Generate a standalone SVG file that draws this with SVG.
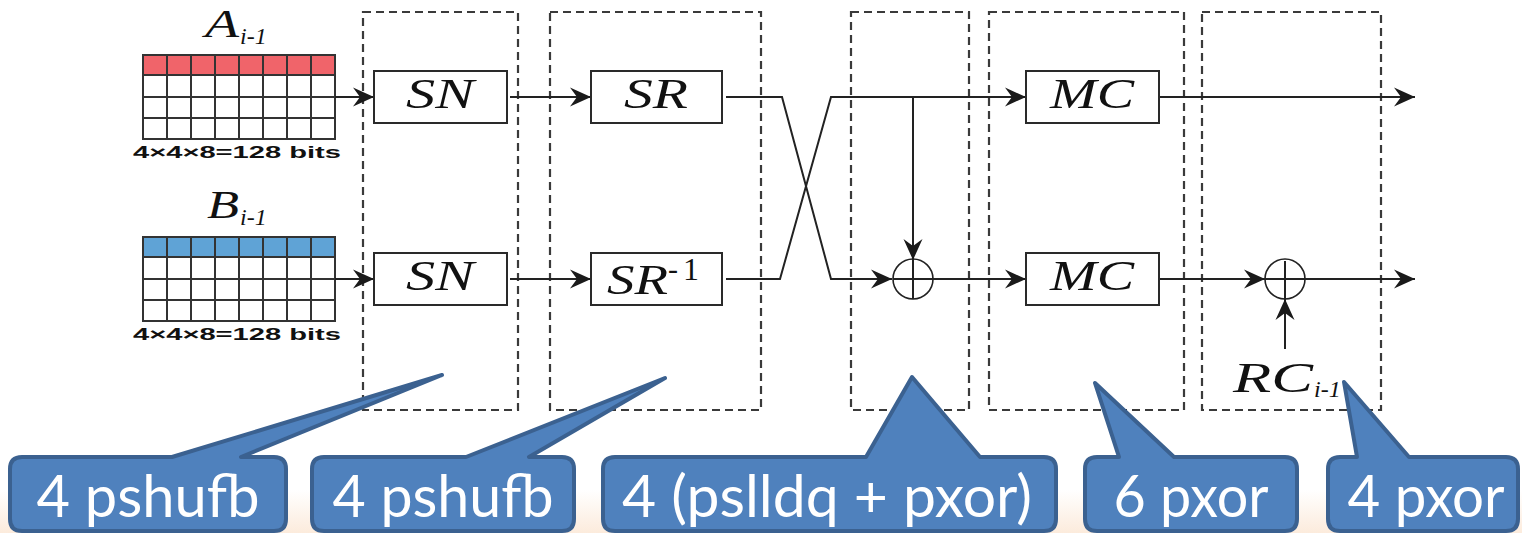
<svg xmlns="http://www.w3.org/2000/svg" width="1522" height="533" viewBox="0 0 1522 533">
<defs>
<linearGradient id="bg" x1="0" y1="0" x2="0" y2="1">
<stop offset="0" stop-color="#ffffff"/>
<stop offset="1" stop-color="#fcebdc"/>
</linearGradient>
<marker id="arr" viewBox="-22 -11 23 22" refX="0" refY="0" markerWidth="23" markerHeight="22" markerUnits="userSpaceOnUse" orient="auto">
<path d="M0,0 L-21,-9.5 L-14,0 L-21,9.5 Z" fill="#1a1a1a"/>
</marker>
<style>
.stage{fill:none;stroke:#3a3a3a;stroke-width:2.2;stroke-dasharray:8 5}
.box{fill:#fff;stroke:#2a2a2a;stroke-width:2}
.wire{fill:none;stroke:#222;stroke-width:2}
.arrow{marker-end:url(#arr)}
.grid{fill:none;stroke:#333;stroke-width:2}
.math{font-family:"Liberation Serif",serif;font-style:italic;fill:#111}
.bits{font-family:"Liberation Sans",sans-serif;font-weight:bold;font-size:17px;fill:#111}
.call{fill:#4f81bd;stroke:#3b6190;stroke-width:4;stroke-linejoin:round}
.ctext{font-family:Lato,"Open Sans",sans-serif;font-size:58px;fill:#fff;text-anchor:middle}
</style>
</defs>
<rect x="0" y="0" width="1522" height="533" fill="#fff"/>
<rect x="0" y="490" width="1522" height="43" fill="url(#bg)"/>

<g id="stages">
<rect class="stage" x="363" y="12" width="155" height="398"/>
<rect class="stage" x="550" y="12" width="211" height="398"/>
<rect class="stage" x="851" y="12" width="118" height="398"/>
<rect class="stage" x="989" y="12" width="195" height="398"/>
<rect class="stage" x="1202" y="12" width="179" height="398"/>
</g>

<g id="stateA">
<rect x="143" y="55" width="192" height="20" fill="#f0646a"/>
<path class="grid" d="M143,55 H335 V139 H143 Z M143,75 H335 M143,97 H335 M143,118 H335 M167,55 V139 M191,55 V139 M215,55 V139 M239,55 V139 M263,55 V139 M287,55 V139 M311,55 V139"/>
<text class="math" x="205" y="37" font-size="40" textLength="34" lengthAdjust="spacingAndGlyphs">A</text>
<text class="math" x="240" y="44" font-size="24">i-1</text>
<text class="bits" x="133" y="158" textLength="208" lengthAdjust="spacingAndGlyphs">4×4×8=128 bits</text>
</g>

<g id="stateB">
<rect x="143" y="237" width="192" height="20" fill="#5fa3d6"/>
<path class="grid" d="M143,237 H335 V321 H143 Z M143,257 H335 M143,279 H335 M143,300 H335 M167,237 V321 M191,237 V321 M215,237 V321 M239,237 V321 M263,237 V321 M287,237 V321 M311,237 V321"/>
<text class="math" x="207" y="218" font-size="40" textLength="32" lengthAdjust="spacingAndGlyphs">B</text>
<text class="math" x="240" y="225" font-size="24">i-1</text>
<text class="bits" x="133" y="340" textLength="208" lengthAdjust="spacingAndGlyphs">4×4×8=128 bits</text>
</g>

<g id="connectors">
<path class="wire arrow" d="M335,97 H374"/>
<path class="wire arrow" d="M335,279 H374"/>
<path class="wire arrow" d="M510,97 H591"/>
<path class="wire arrow" d="M510,279 H591"/>
<path class="wire arrow" d="M726,97 H782 L831,279 H892"/>
<path class="wire arrow" d="M726,279 H780 L831,97 H1026"/>
<path class="wire arrow" d="M913,97 V260"/>
<path class="wire arrow" d="M933,279 H1026"/>
<path class="wire arrow" d="M1159,97 H1415"/>
<path class="wire arrow" d="M1159,279 H1265"/>
<path class="wire arrow" d="M1305,279 H1415"/>
<path class="wire arrow" d="M1285,349 V299"/>
</g>

<g id="SN1">
<rect class="box" x="374" y="71" width="133" height="52"/>
<text class="math" x="440" y="108" font-size="42" text-anchor="middle" textLength="68" lengthAdjust="spacingAndGlyphs">SN</text>
</g>
<g id="SN2">
<rect class="box" x="374" y="253" width="133" height="52"/>
<text class="math" x="440" y="290" font-size="42" text-anchor="middle" textLength="68" lengthAdjust="spacingAndGlyphs">SN</text>
</g>
<g id="SR">
<rect class="box" x="591" y="71" width="131" height="52"/>
<text class="math" x="656" y="108" font-size="42" text-anchor="middle" textLength="64" lengthAdjust="spacingAndGlyphs">SR</text>
</g>
<g id="SRinv">
<rect class="box" x="591" y="253" width="131" height="52"/>
<text class="math" x="607" y="294" font-size="42" textLength="61" lengthAdjust="spacingAndGlyphs">SR</text>
<text x="668" y="279" font-family="Liberation Serif,serif" font-size="30" fill="#111">-</text>
<text x="683" y="280" font-family="Liberation Serif,serif" font-size="32" fill="#111">1</text>
</g>
<g id="XOR1">
<circle cx="913" cy="279" r="20" fill="#fff" stroke="#222" stroke-width="1.6"/>
<path class="wire" d="M893,279 H933 M913,259 V299" stroke-width="1.6"/>
</g>
<g id="MC1">
<rect class="box" x="1026" y="71" width="133" height="52"/>
<text class="math" x="1092" y="108" font-size="42" text-anchor="middle" textLength="84" lengthAdjust="spacingAndGlyphs">MC</text>
</g>
<g id="MC2">
<rect class="box" x="1026" y="253" width="133" height="52"/>
<text class="math" x="1092" y="290" font-size="42" text-anchor="middle" textLength="84" lengthAdjust="spacingAndGlyphs">MC</text>
</g>
<g id="XOR2">
<circle cx="1285" cy="279" r="20" fill="#fff" stroke="#222" stroke-width="1.6"/>
<path class="wire" d="M1265,279 H1305 M1285,261 V299" stroke-width="1.6"/>
</g>
<g id="RC">
<text class="math" x="1233" y="392" font-size="42" textLength="80" lengthAdjust="spacingAndGlyphs">RC</text>
<text class="math" x="1314" y="397" font-size="24">i-1</text>
</g>

<g id="callout1">
<path class="call" d="M22,457 H172 L442,375 L241,457 H274 Q286,457 286,469 V519 Q286,531 274,531 H22 Q10,531 10,519 V469 Q10,457 22,457 Z"/>
<text class="ctext" x="148" y="517" textLength="223" lengthAdjust="spacingAndGlyphs">4 pshufb</text>
</g>
<g id="callout2">
<path class="call" d="M324,457 H466 L665,378 L529,457 H562 Q574,457 574,469 V519 Q574,531 562,531 H324 Q312,531 312,519 V469 Q312,457 324,457 Z"/>
<text class="ctext" x="443" y="517" textLength="221" lengthAdjust="spacingAndGlyphs">4 pshufb</text>
</g>
<g id="callout3">
<path class="call" d="M615,457 H866 L912,377 L980,457 H1044 Q1056,457 1056,469 V519 Q1056,531 1044,531 H615 Q603,531 603,519 V469 Q603,457 615,457 Z"/>
<text class="ctext" x="827" y="517" textLength="410" lengthAdjust="spacingAndGlyphs">4 (pslldq + pxor)</text>
</g>
<g id="callout4">
<path class="call" d="M1097,457 H1119 L1095,383 L1174,457 H1285 Q1297,457 1297,469 V519 Q1297,531 1285,531 H1097 Q1085,531 1085,519 V469 Q1085,457 1097,457 Z"/>
<text class="ctext" x="1191" y="517" textLength="155" lengthAdjust="spacingAndGlyphs">6 pxor</text>
</g>
<g id="callout5">
<path class="call" d="M1340,457 H1357 L1344,382 L1409,457 H1506 Q1518,457 1518,469 V519 Q1518,531 1506,531 H1340 Q1328,531 1328,519 V469 Q1328,457 1340,457 Z"/>
<text class="ctext" x="1426" y="517" textLength="157" lengthAdjust="spacingAndGlyphs">4 pxor</text>
</g>
</svg>
